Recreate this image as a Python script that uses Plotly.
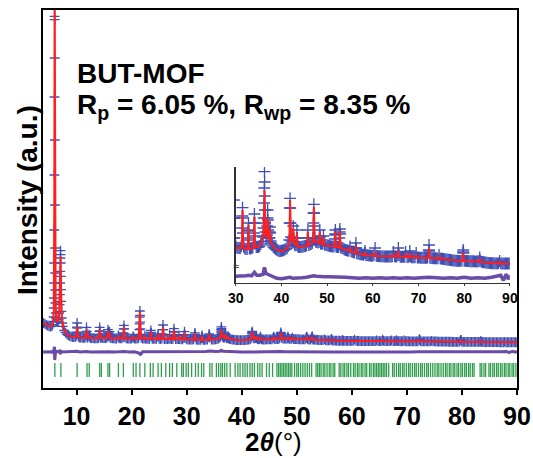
import plotly.graph_objects as go

# ---------------- data (intensity in counts) ----------------
obs_x = [
    3.9, 4.0, 4.25, 4.5, 4.75, 5.0, 5.25, 5.5,
    5.65, 5.75, 5.82, 5.86, 5.89, 5.91, 5.93, 5.95, 5.97, 5.99, 6.0, 6.02, 6.03, 6.05, 6.07, 6.09, 6.11, 6.13, 6.16, 6.2, 6.25, 6.35, 6.5,
    6.65, 6.75, 6.85, 6.92, 6.96, 7.0, 7.03, 7.06, 7.08, 7.1, 7.12, 7.15, 7.18, 7.21, 7.25, 7.3, 7.4, 7.5,
    7.75, 8.0, 8.25, 8.5, 8.75, 9.0, 9.25, 9.5, 9.75, 9.95, 10.0, 10.05, 10.1, 10.15, 10.2, 10.3,
    10.5, 10.75, 11.0, 11.25, 11.5, 11.7, 11.75, 11.8, 11.85, 11.9, 12.0, 12.25, 12.3, 12.35, 12.5, 12.75, 13.0, 13.25, 13.5, 13.75, 14.0, 14.1, 14.15, 14.2, 14.25, 14.3, 14.4,
    14.5, 14.75, 15.0, 15.25, 15.5, 15.6, 15.65, 15.7, 15.75, 15.8, 15.9, 15.95, 16.0, 16.05, 16.1, 16.25, 16.5, 16.75, 17.0, 17.25, 17.55, 17.6, 17.65, 17.75, 18.0, 18.25, 18.45, 18.5, 18.55, 18.6, 18.65, 18.7, 18.75, 19.0, 19.25, 19.5, 19.75, 20.0, 20.25, 20.3, 20.35, 20.5, 20.75, 21.0, 21.25,
    21.35, 21.4, 21.43, 21.46, 21.5, 21.53, 21.56, 21.6, 21.65, 21.75, 22.0, 22.25, 22.4, 22.5, 22.75, 23.0, 23.25, 23.4, 23.45, 23.5, 23.55, 23.6, 23.75, 24.0, 24.25, 24.5, 24.75, 24.8, 24.85, 25.0, 25.25, 25.5,
    25.6, 25.65, 25.7, 25.75, 25.8, 25.9, 26.0, 26.25, 26.5, 26.75, 26.9, 27.0, 27.25, 27.5, 27.6, 27.65, 27.7, 27.75, 27.8, 28.0, 28.25, 28.5, 28.6, 28.7, 29.0, 29.25, 29.5, 29.55, 29.6, 29.65, 29.7, 30.0, 30.25, 30.5, 30.75, 31.0, 31.25,
    31.4, 31.45, 31.5, 31.55, 31.6, 31.75, 32.0, 32.25, 32.5, 32.7, 32.75, 32.8, 32.85, 32.9, 33.0, 33.25, 33.5, 33.75, 34.0, 34.05, 34.1, 34.15, 34.2, 34.5, 34.75, 35.0, 35.25, 35.5, 35.75, 36.0,
    36.1, 36.15, 36.2, 36.25, 36.3, 36.33, 36.36, 36.4, 36.45, 36.55, 36.7, 36.85, 36.9, 36.95, 37.0, 37.05, 37.1, 37.25, 37.4, 37.45, 37.5, 37.55, 37.65, 37.75, 38.0, 38.25, 38.5, 38.75, 39.0, 39.25, 39.5, 39.75, 40.0, 40.25, 40.5, 40.75, 41.0, 41.25, 41.5, 41.7,
    41.8, 41.85, 41.9, 41.95, 42.0, 42.1, 42.25, 42.5, 42.6, 42.7, 42.85, 43.0, 43.25, 43.35, 43.4, 43.45, 43.6, 43.75, 44.0, 44.25, 44.5, 44.75, 45.0, 45.25, 45.5, 45.7, 45.8, 45.9, 46.0, 46.25, 46.5, 46.75, 46.9, 47.0,
    47.05, 47.1, 47.15, 47.2, 47.3, 47.5, 47.75, 48.0, 48.25, 48.35, 48.4, 48.45, 48.6, 48.75, 49.0, 49.2, 49.4, 49.5, 49.75, 50.0, 50.25, 50.5, 50.75, 51.0, 51.25, 51.5, 51.7, 51.75, 51.8, 51.85, 51.95, 52.0, 52.25, 52.5, 52.7, 52.75, 52.8, 52.85, 52.95, 53.0,
    53.25, 53.5, 53.75, 54.0, 54.25, 54.5, 54.75, 55.0, 55.25, 55.5, 55.75, 56.0, 56.25, 56.3, 56.35, 56.5, 56.75, 57.0, 57.25, 57.5, 57.75, 58.0, 58.25, 58.3, 58.35, 58.5, 58.75, 59.0, 59.25, 59.5, 59.75, 60.0, 60.25, 60.5, 60.75,
    61.0, 61.25, 61.5, 61.75, 62.0, 62.25, 62.5, 62.75, 63.0, 63.25, 63.5, 63.75, 64.0, 64.25, 64.5, 64.75, 65.0, 65.25, 65.5, 65.6, 65.75, 66.0, 66.25, 66.5, 66.75, 67.0, 67.2, 67.5, 67.75, 68.0, 68.1, 68.25, 68.5, 68.75, 69.0, 69.25, 69.5, 69.75, 70.0, 70.25, 70.5, 70.75, 71.0, 71.25, 71.5, 71.75, 72.0,
    72.25, 72.3, 72.35, 72.5, 72.75, 73.0, 73.25, 73.5, 73.75, 74.0, 74.25, 74.5, 74.75, 75.0, 75.25, 75.5, 75.75, 76.0, 76.25, 76.5, 76.75, 77.0, 77.25, 77.5, 77.75, 78.0, 78.25, 78.5, 78.75, 79.0, 79.25, 79.5, 79.75, 79.8, 79.85, 80.0,
    80.25, 80.5, 80.75, 81.0, 81.25, 81.5, 81.75, 82.0, 82.25, 82.5, 82.75, 83.0, 83.25, 83.4, 83.5, 83.75, 84.0, 84.25, 84.5, 84.75, 85.0, 85.25, 85.5, 85.75, 86.0, 86.25, 86.5, 86.75, 87.0, 87.25, 87.5, 87.75, 88.0, 88.25, 88.5, 88.75, 89.0, 89.25, 89.5, 89.75, 90.0,
]
obs_y = [
    1900, 1890, 1850, 1790, 1740, 1700, 1690, 1720,
    1800, 2000, 2260, 2800, 3400, 4300, 5500, 7480, 10780, 15460, 20300, 20100, 17800, 12880, 8980, 6400, 4900, 3880, 3100, 2500, 2200, 2000, 1950,
    2000, 2100, 2500, 3000, 3600, 4300, 5000, 5800, 6240, 6000, 5500, 4700, 3900, 3200, 2600, 2200, 1900, 1700,
    1450, 1320, 1220, 1160, 1110, 1080, 1060, 1050, 1060, 1150, 1350, 1650, 1900, 1600, 1300, 1080,
    1030, 1020, 1010, 1005, 1000, 1100, 1350, 1640, 1400, 1100, 1010, 1100, 1200, 1080, 990, 990, 985, 980, 980, 985, 1000, 1150, 1400, 1640, 1420, 1150, 1010,
    1020, 1000, 995, 995, 1010, 1100, 1300, 1500, 1350, 1150, 1100, 1250, 1380, 1200, 1020, 990, 980, 975, 970, 970, 1050, 1150, 1050, 975, 975, 980, 1050, 1300, 1550, 1760, 1550, 1250, 1050, 975, 970, 965, 965, 960, 1050, 1100, 1020, 960, 965, 970, 990,
    1150, 1500, 1850, 2250, 2620, 2350, 1950, 1550, 1200, 1020, 970, 960, 1150, 960, 955, 950, 955, 1150, 1300, 1450, 1300, 1100, 955, 945, 945, 945, 1100, 1250, 1100, 945, 940, 960,
    1250, 1500, 1780, 1500, 1200, 960, 940, 940, 938, 950, 1200, 950, 935, 950, 1200, 1380, 1560, 1350, 1100, 930, 928, 940, 1150, 935, 925, 922, 1000, 1200, 1380, 1200, 1000, 915, 905, 900, 900, 900, 920,
    1100, 1220, 1303, 1200, 1050, 910, 895, 890, 890, 1000, 1080, 1150, 1070, 980, 895, 895, 900, 905, 1050, 1150, 1240, 1150, 1020, 910, 910, 910, 920, 940, 965, 1010,
    1100, 1200, 1350, 1500, 1663, 1560, 1420, 1280, 1150, 1060, 1020, 1030, 1120, 1200, 1280, 1180, 1080, 1000, 1000, 1060, 1110, 1050, 970, 950, 930, 910, 900, 890, 880, 875, 870, 870, 872, 875, 878, 885, 890, 900, 920, 980,
    1150, 1300, 1397, 1300, 1150, 1010, 970, 1000, 1120, 1000, 940, 925, 930, 1000, 1080, 1000, 915, 912, 910, 910, 912, 915, 918, 920, 925, 1000, 1080, 1000, 930, 935, 940, 950, 1000, 1150,
    1250, 1337, 1250, 1120, 1000, 965, 960, 955, 960, 1020, 1080, 1010, 945, 942, 945, 1020, 938, 935, 930, 928, 925, 920, 918, 916, 915, 915, 990, 1040, 1080, 1030, 930, 912, 910, 910, 1000, 1060, 1090, 1040, 920, 905,
    900, 895, 888, 880, 878, 875, 872, 915, 866, 862, 858, 855, 900, 950, 900, 848, 845, 842, 838, 836, 834, 832, 850, 870, 850, 830, 828, 826, 825, 824, 822, 821, 830, 900, 822,
    820, 819, 818, 817, 816, 816, 815, 815, 815, 815, 815, 815, 815, 818, 860, 818, 815, 815, 830, 900, 830, 813, 812, 812, 811, 811, 860, 810, 810, 820, 870, 815, 808, 807, 806, 806, 850, 805, 805, 804, 803, 803, 802, 802, 801, 801, 805,
    880, 930, 870, 802, 800, 799, 798, 798, 797, 797, 796, 830, 795, 794, 792, 790, 788, 786, 785, 783, 782, 780, 778, 776, 775, 774, 773, 772, 771, 771, 771, 775, 860, 880, 850, 772,
    771, 770, 770, 769, 768, 768, 767, 767, 766, 766, 765, 765, 770, 805, 775, 762, 760, 758, 756, 754, 752, 751, 750, 749, 748, 747, 747, 746, 746, 746, 746, 770, 746, 745, 745, 745, 745, 745, 745, 745, 745,
]

calc_x = [
    3.9, 4.5, 5.0, 5.4, 5.7, 5.85, 5.95, 6.02, 6.09, 6.2, 6.4, 6.6, 6.85, 6.98, 7.08, 7.18, 7.32, 7.6, 8.0, 8.5, 9.0, 9.6,
    9.95, 10.1, 10.25, 10.7, 11.6, 11.8, 11.95, 12.3, 12.45, 13.5, 14.05, 14.2, 14.35, 15.55, 15.7, 15.85, 16.0, 16.15,
    17.45, 17.6, 17.75, 18.45, 18.6, 18.75, 20.15, 20.3, 20.45, 21.3, 21.5, 21.7, 22.3, 22.4, 22.5, 23.35, 23.5, 23.65,
    24.65, 24.8, 24.95, 25.55, 25.7, 25.85, 26.8, 26.9, 27.0, 27.55, 27.7, 27.85, 28.5, 28.6, 28.7, 29.45, 29.6, 29.75,
    30.3, 31.35, 31.5, 31.65, 32.65, 32.8, 32.95, 33.95, 34.1, 34.25, 35.0, 35.6, 36.1, 36.3, 36.5, 36.85, 37.0, 37.2,
    37.4, 37.5, 37.65, 38.5, 39.5, 40.5, 41.3, 41.75, 41.9, 42.1, 42.45, 42.6, 42.75, 43.25, 43.4, 43.55, 44.5, 45.65,
    45.8, 45.95, 46.5, 46.95, 47.1, 47.3, 48.25, 48.4, 48.55, 49.05, 49.2, 49.35, 50.5, 51.65, 51.8, 51.95, 52.65, 52.8,
    52.95, 54.0, 54.85, 55.0, 55.15, 56.15, 56.3, 56.45, 57.5, 58.2, 58.3, 58.4, 60.35, 60.5, 60.65, 62.5, 64.35, 64.5,
    64.65, 65.45, 65.6, 65.75, 67.1, 67.2, 67.3, 67.95, 68.1, 68.25, 69.4, 69.5, 69.6, 72.15, 72.3, 72.45, 74.4, 74.5,
    74.6, 77.0, 79.65, 79.8, 79.95, 83.25, 83.4, 83.55, 87.7, 87.8, 87.9, 90.0,
]
calc_y = [
    1900, 1790, 1700, 1700, 1850, 2600, 9000, 22500, 9000, 2900, 2000, 2000, 2600, 4200, 5900, 4000, 2200, 1600, 1300, 1150, 1080, 1050,
    1150, 1680, 1100, 1020, 1000, 1480, 1020, 1150, 1000, 980, 1010, 1520, 1010, 1000, 1420, 1050, 1300, 990,
    970, 1150, 970, 980, 1640, 980, 960, 1100, 960, 980, 2580, 980, 960, 1150, 950, 950, 1380, 950,
    940, 1250, 940, 940, 1640, 940, 935, 1200, 935, 930, 1480, 930, 925, 1150, 925, 920, 1320, 915,
    900, 900, 1280, 900, 890, 1130, 890, 900, 1213, 910, 910, 950, 1050, 1480, 1050, 1000, 1200, 1000,
    980, 1080, 960, 900, 870, 875, 900, 960, 1380, 1000, 960, 1100, 950, 920, 1050, 915, 910, 920,
    1064, 925, 940, 960, 1313, 970, 950, 1064, 945, 940, 1010, 935, 920, 915, 1064, 910, 910, 1073,
    900, 880, 870, 910, 865, 850, 925, 845, 835, 830, 860, 830, 820, 864, 820, 815, 815, 847,
    815, 815, 874, 815, 810, 850, 810, 810, 847, 808, 805, 840, 805, 800, 900, 800, 795, 825,
    795, 780, 770, 855, 770, 765, 800, 760, 745, 775, 745, 745,
]

# difference curve (observed - calculated), counts
diff_x = [
    3.9, 4.5, 5.0, 5.5, 5.8, 5.93, 5.98, 6.03, 6.08, 6.2, 6.6, 6.95, 7.05, 7.15, 7.3, 7.8, 8.5, 9.5, 10.1, 10.6,
    11.8, 12.5, 14.2, 15.0, 15.8, 17.0, 18.6, 19.5, 20.5, 21.45, 21.55, 22.0, 23.5, 24.5, 25.7, 26.5, 27.7, 28.8, 29.6, 30.5,
    31.5, 32.3, 32.8, 33.5, 34.1, 34.6, 35.3, 36.0, 36.3, 36.6, 37.0, 37.5, 38.0, 39.0, 40.0, 41.0, 41.9, 42.5, 43.5, 44.5,
    45.5, 46.5, 47.1, 47.7, 48.4, 49.5, 50.5, 51.8, 52.8, 54.0, 55.5, 57.0, 58.5, 60.0, 61.5, 63.0, 64.5, 66.0, 67.5, 69.0,
    70.5, 72.3, 74.0, 75.5, 77.0, 78.5, 80.0, 81.5, 83.0, 84.5, 86.0, 87.0, 88.0, 88.6, 89.2, 89.7, 90.0,
]
diff_y = [
    0, 10, 0, 10, -40, 150, 320, -480, -150, 60, 20, 60, -130, 80, 0, 10, 0, 10, 40, 0,
    30, 0, 30, 0, 20, 0, 30, 0, 10, -80, -180, 20, 20, 10, 30, 10, 20, 10, 20, 20,
    25, 25, 30, 25, 60, 30, 30, 40, 110, 50, 40, 30, 20, 0, -5, 0, 10, 0, 0, 5,
    10, 20, 25, 20, 15, 15, 15, 15, 15, 10, 5, 0, 5, 0, 5, 0, 5, 0, 5, 0,
    5, 10, 5, 0, 5, 0, 10, 0, 5, 0, 10, 20, 30, -20, 40, -10, 30,
]

# Bragg reflection positions (2theta, degrees)
bragg_x = [
    6.05, 7.15, 10.1, 11.9, 12.3, 14.2, 14.5, 15.7, 16.0, 17.6, 18.5, 20.3, 20.8, 21.5, 22.4, 23.4, 23.9, 24.8, 25.4,
    26.2, 26.9, 27.4, 28.2, 29.1, 29.4, 29.9, 30.3, 30.9, 31.6, 32.1, 32.7, 33.1, 34.2, 34.6, 35.4, 35.8, 36.2, 36.5,
    36.9, 37.3, 37.9, 38.8, 39.3, 39.7, 40.2, 40.6, 41.0, 41.5, 41.9, 42.3, 42.9, 43.3, 43.7, 44.5, 45.0, 45.6, 46.4,
    46.7, 47.0, 47.3, 47.6, 47.9, 48.2, 48.5, 48.8, 49.1, 49.6, 50.0, 50.3, 50.7, 51.1, 51.5, 51.9, 52.3, 52.7, 53.5,
    53.8, 54.1, 54.4, 54.8, 55.1, 55.5, 55.9, 56.2, 56.6, 56.9, 57.7, 58.0, 58.4, 58.7, 59.1, 59.4, 59.8, 60.3, 60.6,
    61.0, 61.3, 61.7, 62.0, 62.4, 62.7, 63.2, 63.5, 63.9, 64.2, 64.5, 64.8, 65.1, 65.4, 65.7, 66.0, 66.3, 66.7, 67.4,
    67.7, 68.1, 68.5, 68.8, 69.2, 69.5, 69.9, 70.3, 70.6, 71.0, 71.4, 71.7, 72.1, 72.5, 72.8, 73.2, 73.6, 73.9, 74.3,
    74.7, 75.1, 75.5, 75.8, 76.2, 76.6, 77.0, 77.3, 77.7, 78.0, 78.4, 78.7, 79.1, 79.4, 79.8, 80.1, 80.5, 80.8, 81.2,
    81.5, 81.9, 82.2, 83.3, 83.6, 84.0, 84.3, 84.9, 85.2, 85.6, 85.9, 86.3, 86.6, 87.0, 87.3, 87.7, 88.0, 88.4, 88.7,
    89.1, 89.4, 89.8,
]

x_ticks = [10, 20, 30, 40, 50, 60, 70, 80, 90]
inset_ticks = [30, 40, 50, 60, 70, 80, 90]

assert len(obs_x) == len(obs_y)
assert len(calc_x) == len(calc_y)
assert len(diff_x) == len(diff_y)

# ---------------- style ----------------
BLUE = "#3f4fb5"
RED = "#ff1f1f"
PURPLE = "#6a4ba6"
GREEN = "#2f9e4c"
FONT = "Liberation Sans, Arial, sans-serif"

DIFF_OFFSET_MAIN = 160
DIFF_OFFSET_INSET = 597
BRAGG_LEVEL = -920

fig = go.Figure()

# main panel
fig.add_trace(go.Scatter(x=obs_x, y=obs_y, mode="markers",
                         marker=dict(symbol="cross-thin", size=7, color=BLUE,
                                     line=dict(width=1.3, color=BLUE)),
                         xaxis="x", yaxis="y", showlegend=False))
fig.add_trace(go.Scatter(x=calc_x, y=calc_y, mode="lines",
                         line=dict(color=RED, width=2), xaxis="x", yaxis="y", showlegend=False))
fig.add_trace(go.Scatter(x=diff_x, y=[d + DIFF_OFFSET_MAIN for d in diff_y], mode="lines",
                         line=dict(color=PURPLE, width=3), xaxis="x", yaxis="y", showlegend=False))
fig.add_trace(go.Scatter(x=bragg_x, y=[BRAGG_LEVEL] * len(bragg_x), mode="markers",
                         marker=dict(symbol="line-ns", size=10, color=GREEN,
                                     line=dict(width=1.3, color=GREEN)),
                         xaxis="x", yaxis="y", showlegend=False))

# inset panel
fig.add_trace(go.Scatter(x=obs_x, y=obs_y, mode="markers",
                         marker=dict(symbol="cross-thin", size=8.5, color=BLUE,
                                     line=dict(width=1.3, color=BLUE)),
                         xaxis="x2", yaxis="y2", showlegend=False))
fig.add_trace(go.Scatter(x=calc_x, y=calc_y, mode="lines",
                         line=dict(color=RED, width=2), xaxis="x2", yaxis="y2", showlegend=False))
fig.add_trace(go.Scatter(x=diff_x, y=[d + DIFF_OFFSET_INSET for d in diff_y], mode="lines",
                         line=dict(color=PURPLE, width=3.5), xaxis="x2", yaxis="y2", showlegend=False))

fig.update_layout(
    template="none",
    width=533, height=458, autosize=False,
    margin=dict(l=43, r=16, t=10, b=70),
    paper_bgcolor="white", plot_bgcolor="white",
    font=dict(family=FONT, color="black"),
    xaxis=dict(range=[3.9, 90], tickvals=x_ticks, ticks="outside", ticklen=5, tickwidth=2,
               tickcolor="black", showline=True, linewidth=2, linecolor="black", mirror=True,
               showgrid=False, zeroline=False, automargin=False,
               tickfont=dict(family=FONT, size=25, color="black", weight="bold")),
    yaxis=dict(range=[-2000, 20680], showticklabels=False, ticks="", showline=True,
               linewidth=2, linecolor="black", mirror=True, showgrid=False, zeroline=False,
               automargin=False),
    xaxis2=dict(domain=[0.4065, 0.985], anchor="y2", range=[30, 90], tickvals=inset_ticks,
                ticks="outside", ticklen=2, tickwidth=1, tickcolor="#333",
                showline=True, linewidth=1.2, linecolor="#333", showgrid=False, zeroline=False,
                automargin=False,
                tickfont=dict(family=FONT, size=14, color="black", weight="bold")),
    yaxis2=dict(domain=[0.2778, 0.5847], anchor="x2", range=[550, 1710], showticklabels=False,
                ticks="", showline=True, linewidth=1.2, linecolor="#333", showgrid=False,
                zeroline=False, automargin=False),
    annotations=[
        dict(text="<b>BUT-MOF</b>", xref="paper", yref="paper", x=0.0677, y=0.831,
             xanchor="left", yanchor="middle", showarrow=False,
             font=dict(family=FONT, size=28, color="black")),
        dict(text="<b>R<sub>p</sub> = 6.05 %, R<sub>wp</sub> = 8.35 %</b>", xref="paper", yref="paper",
             x=0.0677, y=0.744, xanchor="left", yanchor="middle", showarrow=False,
             font=dict(family=FONT, size=28, color="black")),
        dict(text="<b>Intensity (a.u.)</b>", xref="paper", yref="paper", x=-0.034, y=0.497,
             xanchor="center", yanchor="middle", textangle=-90, showarrow=False,
             font=dict(family=FONT, size=28, color="black")),
        dict(text="<b>2<i>θ</i></b>(°)", xref="paper", yref="paper", x=0.486, y=-0.143,
             xanchor="center", yanchor="middle", showarrow=False,
             font=dict(family=FONT, size=26, color="black")),
        dict(text="≈", xref="x2", yref="y2", x=30, y=720, xanchor="center", yanchor="middle",
             showarrow=False, font=dict(family=FONT, size=11, color="#333")),
    ],
)

fig.write_html("out.html",
               config={"displayModeBar": False, "responsive": False, "staticPlot": True},
               post_script="document.body.style.margin='0';document.body.style.overflow='hidden';")
